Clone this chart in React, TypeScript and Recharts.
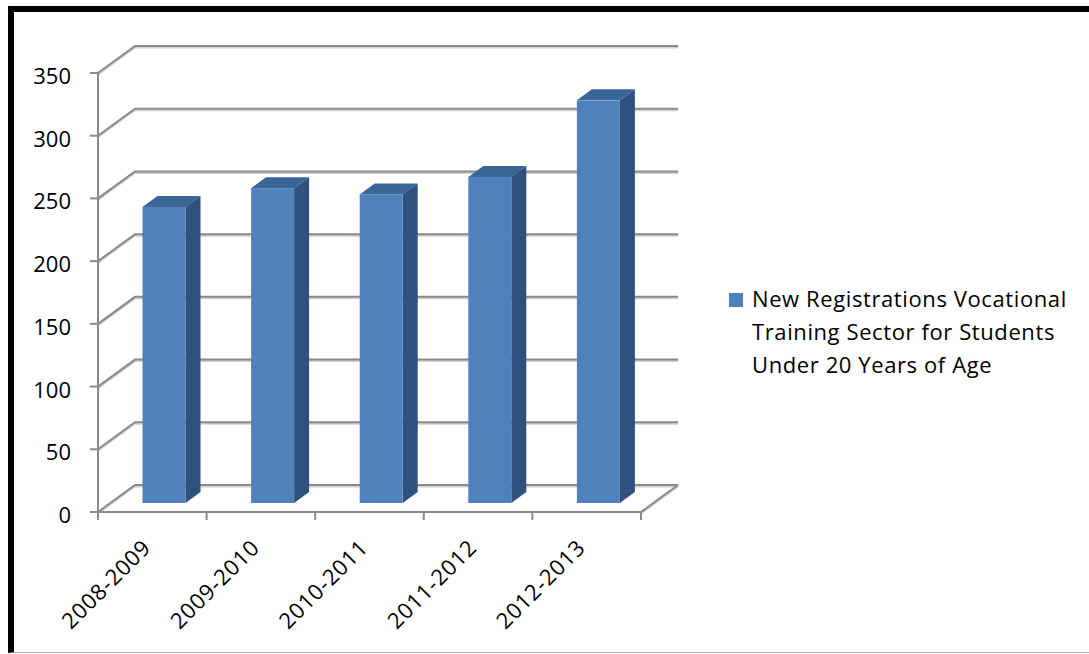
import React from "react";
import { BarChart, Bar, XAxis, YAxis, CartesianGrid } from "recharts";

const CATEGORIES = ["2008-2009", "2009-2010", "2010-2011", "2011-2012", "2012-2013"];
const REGISTRATIONS = [236, 251, 246, 260, 321];
const Y_TICKS = [0, 50, 100, 150, 200, 250, 300, 350];
const SERIES_NAME = "New Registrations Vocational Training Sector for Students Under 20 Years of Age";

const data = CATEGORIES.map((period, i) => ({ period, value: REGISTRATIONS[i] }));

// plot area (front plane) geometry
const W = 1089;
const H = 654;
const MARGIN = { top: 73, right: 448, bottom: 42, left: 0 };
const PLOT_LEFT = 98;
const PLOT_BOTTOM = H - MARGIN.bottom - 100;
const PLOT_W = W - MARGIN.right - PLOT_LEFT;
const BAND = PLOT_W / CATEGORIES.length;

// fake 3d depth
const WALL_DX = 37;
const WALL_DY = 27;
const FRONT_DX = 11.5;
const FRONT_DY = 9;
const BAR_DX = 15;
const BAR_DY = 11;

const FONT = "'Open Sans', sans-serif";
const GRID = "#8a8a8a";
const GRID_SHADOW = "#d0d0d0";

function GridLine(props: any) {
  const { x1, x2, y1 } = props;
  const d = `M${x1},${y1} L${x1 + WALL_DX},${y1 - WALL_DY} L${x2 + WALL_DX},${y1 - WALL_DY}`;
  const floor = Math.abs(y1 - PLOT_BOTTOM) < 1;
  return (
    <g key={props.key}>
      <path d={d} transform="translate(0,1.5)" stroke={GRID_SHADOW} strokeWidth={2} fill="none" />
      <path d={d} stroke={GRID} strokeWidth={2} fill="none" />
      {floor && (
        <>
          <path
            d={`M${x2},${y1} L${x2 + WALL_DX},${y1 - WALL_DY}`}
            transform="translate(0,1.5)"
            stroke={GRID_SHADOW}
            strokeWidth={2}
          />
          <path d={`M${x2},${y1} L${x2 + WALL_DX},${y1 - WALL_DY}`} stroke={GRID} strokeWidth={2} />
        </>
      )}
    </g>
  );
}

function Bar3D(props: any) {
  const { x, y, width, height } = props;
  const fx = x + FRONT_DX;
  const fy = y - FRONT_DY;
  const r = fx + width;
  const b = fy + height;
  return (
    <g>
      <polygon
        points={`${fx},${fy} ${fx + BAR_DX},${fy - BAR_DY} ${r + BAR_DX},${fy - BAR_DY} ${r},${fy}`}
        fill="#3b6497"
      />
      <polygon
        points={`${r},${fy} ${r + BAR_DX},${fy - BAR_DY} ${r + BAR_DX},${b - BAR_DY} ${r},${b}`}
        fill="#30517d"
      />
      <rect x={fx} y={fy} width={width} height={height} fill="#4f81bd" />
    </g>
  );
}

function YTick(props: any) {
  const { y, payload } = props;
  return (
    <text x={71} y={y + 11} textAnchor="end" fontFamily={FONT} fontSize={22} fill="#000">
      {payload.value}
    </text>
  );
}

function XTick(props: any) {
  const { x, payload, index, visibleTicksCount } = props;
  const left = x - BAND / 2;
  const tx = x;
  const ty = PLOT_BOTTOM + 37;
  return (
    <g>
      <line x1={left} y1={PLOT_BOTTOM} x2={left} y2={PLOT_BOTTOM + 8} stroke={GRID} strokeWidth={2} />
      {index === visibleTicksCount - 1 && (
        <line
          x1={left + BAND}
          y1={PLOT_BOTTOM}
          x2={left + BAND}
          y2={PLOT_BOTTOM + 8}
          stroke={GRID}
          strokeWidth={2}
        />
      )}
      <text
        x={tx}
        y={ty}
        textAnchor="end"
        transform={`rotate(-45, ${tx}, ${ty})`}
        fontFamily={FONT}
        fontSize={22}
        letterSpacing={0.8}
        fill="#000"
      >
        {payload.value}
      </text>
    </g>
  );
}

export default function App() {
  return (
    <div style={{ position: "absolute", left: 0, top: 0, width: W, height: H, background: "#fff" }}>
      <div
        style={{
          position: "absolute",
          left: 8,
          top: 6,
          width: W,
          height: 647,
          boxSizing: "border-box",
          borderTop: "6px solid #000",
          borderLeft: "6px solid #000",
          borderBottom: "1px solid #b0b0b0",
        }}
      />
      <BarChart width={W} height={H} data={data} margin={MARGIN} style={{ position: "absolute", left: 0, top: 0 }}>
        <CartesianGrid vertical={false} horizontal={GridLine} />
        <XAxis
          dataKey="period"
          height={100}
          axisLine={{ stroke: GRID, strokeWidth: 2 }}
          tickLine={false}
          tick={<XTick />}
          interval={0}
        />
        <YAxis
          width={98}
          domain={[0, 350]}
          ticks={Y_TICKS}
          axisLine={{ stroke: GRID, strokeWidth: 2 }}
          tickLine={{ stroke: GRID, strokeWidth: 2 }}
          tickSize={8}
          tick={<YTick />}
          interval={0}
        />
        <Bar dataKey="value" barSize={43} shape={<Bar3D />} isAnimationActive={false} />
      </BarChart>
      <div
        style={{
          position: "absolute",
          left: 729,
          top: 282,
          width: 355,
          fontFamily: FONT,
          fontSize: 22,
          letterSpacing: 0.6,
          lineHeight: "33px",
          color: "#000",
        }}
      >
        <span
          style={{
            position: "absolute",
            left: 0,
            top: 11,
            width: 14,
            height: 14,
            background: "#4f81bd",
          }}
        />
        <div style={{ marginLeft: 23, width: 325 }}>{SERIES_NAME}</div>
      </div>
    </div>
  );
}
